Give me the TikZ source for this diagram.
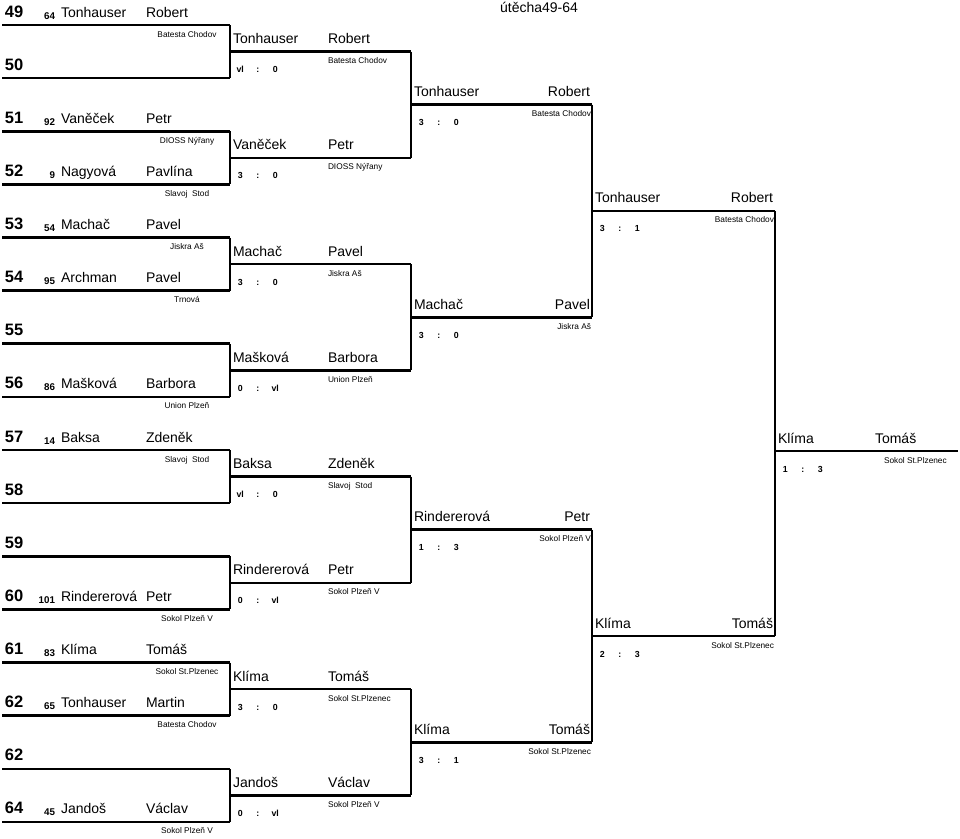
\documentclass[tikz,border=0pt]{standalone}
\usepackage{fontspec}
\setmainfont{Liberation Sans}
\usetikzlibrary{positioning}

\newcommand{\matchscore}[2]{\makebox[17.5pt]{#1}\makebox[17.5pt]{:}\makebox[17.5pt]{#2}}

\tikzset{
  hline/.style={line width=2.6pt},
  vline/.style={line width=1.6pt},
  txt/.style={inner sep=0pt, outer sep=0pt},
  rowno/.style={txt, anchor=base west, font=\fontsize{16.5}{17}\selectfont\bfseries},
  seed/.style={txt, anchor=base east, font=\fontsize{9.8}{10}\selectfont\bfseries},
  player/.style={txt, anchor=base west, font=\fontsize{14}{15}\selectfont},
  club/.style={txt, font=\fontsize{8.3}{9}\selectfont},
  result/.style={txt, anchor=base west, font=\fontsize{8.8}{9}\selectfont\bfseries},
}

\begin{document}
\begin{tikzpicture}[x=1pt,y=-1pt]
    \useasboundingbox (0,0) rectangle (960,838);

    \node[player, anchor=base] (title) at (539,12) {útěcha49-64};

    % first round: lines and numbers
    \foreach \i/\no in {0/49,1/50,2/51,3/52,4/53,5/54,6/55,7/56,8/57,9/58,10/59,11/60,12/61,13/62,14/62,15/64}{
        \pgfmathsetmacro\y{25+53.13*\i}
        \coordinate (a\i) at (2,\y);
        \coordinate (b\i) at (230,\y);
        \draw[hline] (a\i) -- (b\i);
        \node[rowno] (no\i) at (5,\y-8) {\no};
    }

    % first round: players
    \foreach \i/\sd/\sur/\first/\cl in {0/64/Tonhauser/Robert/Batesta Chodov,
            2/92/Vaněček/Petr/DIOSS Nýřany, 3/9/Nagyová/Pavlína/Slavoj~~Stod,
            4/54/Machač/Pavel/Jiskra Aš, 5/95/Archman/Pavel/Trnová,
            7/86/Mašková/Barbora/Union Plzeň, 8/14/Baksa/Zdeněk/Slavoj~~Stod,
            11/101/Rindererová/Petr/Sokol Plzeň V, 12/83/Klíma/Tomáš/Sokol St.Plzenec,
            13/65/Tonhauser/Martin/Batesta Chodov, 15/45/Jandoš/Václav/Sokol Plzeň V}{
        \pgfmathsetmacro\y{25+53.13*\i}
        \node[seed] (sd\i) at (55,\y-6) {\sd};
        \node[player] (sur\i) at (61,\y-8) {\sur};
        \node[player] (fn\i) at (146,\y-8) {\first};
        \node[club, anchor=base] (cl\i) at (187,\y+12) {\cl};
    }

    % second round
    \foreach \k/\sur/\first/\cl/\sa/\sb in {0/Tonhauser/Robert/Batesta Chodov/vl/0,
            1/Vaněček/Petr/DIOSS Nýřany/3/0, 2/Machač/Pavel/Jiskra Aš/3/0,
            3/Mašková/Barbora/Union Plzeň/0/vl, 4/Baksa/Zdeněk/Slavoj~~Stod/vl/0,
            5/Rindererová/Petr/Sokol Plzeň V/0/vl, 6/Klíma/Tomáš/Sokol St.Plzenec/3/0,
            7/Jandoš/Václav/Sokol Plzeň V/0/vl}{
        \pgfmathtruncatemacro\ia{2*\k}
        \pgfmathtruncatemacro\ib{2*\k+1}
        \pgfmathsetmacro\y{25+53.13*(2*\k+0.5)}
        \coordinate (c\k) at (230,\y);
        \coordinate (d\k) at (411,\y);
        \draw[vline] (b\ia) -- (b\ib);
        \draw[hline] (c\k) -- (d\k);
        \node[player] (rtwosur\k) at (233,\y-8) {\sur};
        \node[player] (rtwofn\k) at (328,\y-8) {\first};
        \node[club, anchor=base west] (rtwocl\k) at (328,\y+12) {\cl};
        \node[result] (rtwores\k) at (231.5,\y+21) {\matchscore{\sa}{\sb}};
    }

    % third round
    \foreach \k/\sur/\first/\cl/\sa/\sb in {0/Tonhauser/Robert/Batesta Chodov/3/0,
            1/Machač/Pavel/Jiskra Aš/3/0, 2/Rindererová/Petr/Sokol Plzeň V/1/3,
            3/Klíma/Tomáš/Sokol St.Plzenec/3/1}{
        \pgfmathtruncatemacro\ia{2*\k}
        \pgfmathtruncatemacro\ib{2*\k+1}
        \pgfmathsetmacro\y{25+53.13*(4*\k+1.5)}
        \coordinate (e\k) at (411,\y);
        \coordinate (f\k) at (592,\y);
        \draw[vline] (d\ia) -- (d\ib);
        \draw[hline] (e\k) -- (f\k);
        \node[player] (rthreesur\k) at (414,\y-8) {\sur};
        \node[player, anchor=base east] (rthreefn\k) at (590,\y-8) {\first};
        \node[club, anchor=base east] (rthreecl\k) at (591,\y+12) {\cl};
        \node[result] (rthreeres\k) at (412.5,\y+21) {\matchscore{\sa}{\sb}};
    }

    % semifinal
    \foreach \k/\sur/\first/\cl/\sa/\sb in {0/Tonhauser/Robert/Batesta Chodov/3/1,
            1/Klíma/Tomáš/Sokol St.Plzenec/2/3}{
        \pgfmathtruncatemacro\ia{2*\k}
        \pgfmathtruncatemacro\ib{2*\k+1}
        \pgfmathsetmacro\y{25+53.13*(8*\k+3.5)}
        \coordinate (g\k) at (592,\y);
        \coordinate (h\k) at (775,\y);
        \draw[vline] (f\ia) -- (f\ib);
        \draw[hline] (g\k) -- (h\k);
        \node[player] (rfoursur\k) at (595,\y-8) {\sur};
        \node[player, anchor=base east] (rfourfn\k) at (773,\y-8) {\first};
        \node[club, anchor=base east] (rfourcl\k) at (774,\y+12) {\cl};
        \node[result] (rfourres\k) at (593.5,\y+21) {\matchscore{\sa}{\sb}};
    }

    % final
    \coordinate (win) at (775,451);
    \coordinate (winend) at (958,451);
    \draw[vline] (h0) -- (h1);
    \draw[hline] (win) -- (winend);
    \node[player] (winsur) at (778,443) {Klíma};
    \node[player] (winfn) at (875,443) {Tomáš};
    \node[club, anchor=base west] (wincl) at (884,463) {Sokol St.Plzenec};
    \node[result] (winres) at (776.5,472) {\matchscore{1}{3}};

\end{tikzpicture}
\end{document}
